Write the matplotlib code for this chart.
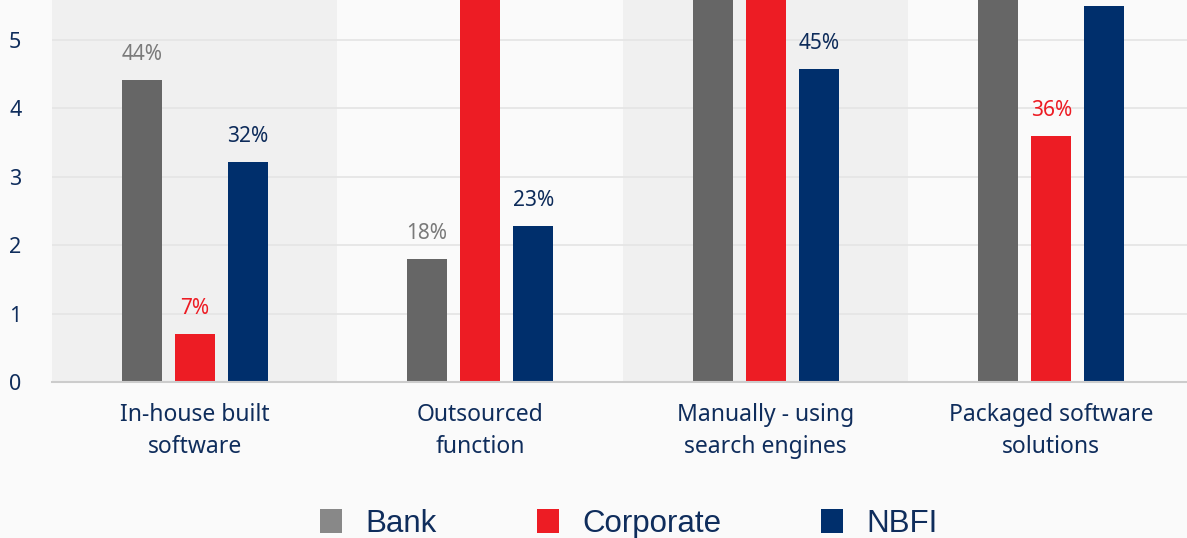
import numpy as np
import matplotlib.pyplot as plt
from matplotlib.patches import Patch

CATEGORIES = [
    "In-house built\nsoftware",
    "Outsourced\nfunction",
    "Manually - using\nsearch engines",
    "Packaged software\nsolutions",
]
SERIES = ["Bank", "Corporate", "NBFI"]

# bar heights (1 unit = 10%); tall bars run off the top of the chart
BANK = [4.42, 1.80, 6.6, 5.9]
CORPORATE = [0.70, 6.4, 6.2, 3.60]
NBFI = [3.22, 2.28, 4.57, 5.50]

BANK_LABELS = ["44%", "18%", "66%", "59%"]
CORPORATE_LABELS = ["7%", "64%", "62%", "36%"]
NBFI_LABELS = ["32%", "23%", "45%", "55%"]

BAR_COLORS = ["#666666", "#ed1c24", "#002f6c"]
LABEL_COLORS = ["#7a7a7a", "#ed1c24", "#0d2b5a"]
LEGEND_COLORS = ["#888888", "#ed1c24", "#002f6c"]
TEXT_NAVY = "#0f2d5c"


def main():
    fig = plt.figure(figsize=(11.87, 5.38), dpi=100, facecolor="#fafafa")
    ax = fig.add_axes([52 / 1187, 156 / 538, 1142 / 1187, 382 / 538])
    ax.set_facecolor("#fafafa")

    x = np.arange(len(CATEGORIES))
    ymax = 5.585
    ax.set_xlim(-0.5, len(CATEGORIES) - 0.5)
    ax.set_ylim(0, ymax)

    for i in x:
        if i % 2 == 0:
            ax.axvspan(i - 0.5, i + 0.5, color="#f0f0f0", zorder=0, lw=0)

    for y in range(1, 6):
        ax.axhline(y, color="#e4e4e4", lw=1.2, zorder=1)

    width = 0.14
    step = 0.186
    values = [BANK, CORPORATE, NBFI]
    labels = [BANK_LABELS, CORPORATE_LABELS, NBFI_LABELS]
    for j, (vals, labs) in enumerate(zip(values, labels)):
        pos = x + (j - 1) * step
        ax.bar(pos, vals, width, color=BAR_COLORS[j], zorder=2)
        for p, v, lab in zip(pos, vals, labs):
            # labels of bars that run off the top are not visible
            if v + 0.5 > ymax:
                continue
            ax.text(p, v + 0.22, lab, ha="center", va="bottom",
                    color=LABEL_COLORS[j], fontsize=15, family="Noto Sans",
                    zorder=3)

    for side in ["top", "right", "left"]:
        ax.spines[side].set_visible(False)
    ax.spines["bottom"].set_color("#cccccc")
    ax.spines["bottom"].set_linewidth(1.5)

    ax.set_yticks(range(0, 6))
    ax.set_xticks(x)
    ax.set_xticklabels(CATEGORIES, fontsize=16.5, color=TEXT_NAVY,
                       family="Noto Sans", linespacing=1.45)
    ax.tick_params(axis="x", length=0, pad=15)
    ax.tick_params(axis="y", length=0, pad=22, labelsize=15.5, labelcolor=TEXT_NAVY)
    for t in ax.get_yticklabels():
        t.set_family("Noto Sans")

    handles = [Patch(facecolor=c, edgecolor="none") for c in LEGEND_COLORS]
    fig.legend(handles, SERIES, loc="center", bbox_to_anchor=(0.53, 1 - 524 / 538),
               ncol=3, frameon=False, labelcolor=TEXT_NAVY,
               handlelength=0.7, handleheight=0.8, handletextpad=0.75,
               columnspacing=3.2, prop={"family": "Liberation Sans", "size": 22.5})

    fig.savefig("out.png", dpi=100, facecolor=fig.get_facecolor())


if __name__ == "__main__":
    main()
